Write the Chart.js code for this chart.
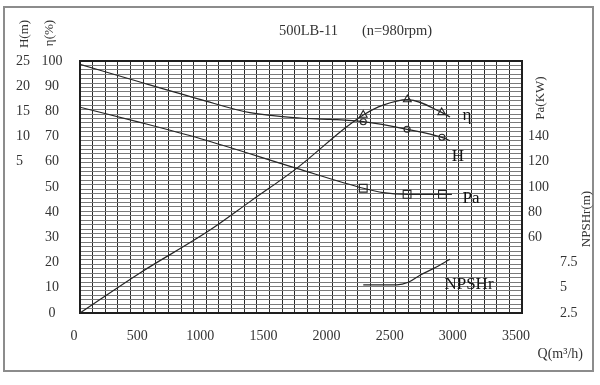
<!DOCTYPE html>
<html>
<head>
<meta charset="utf-8">
<script src="https://cdn.jsdelivr.net/npm/chart.js@4"></script>
<style>
html,body{margin:0;padding:0;background:#fff;}
canvas{display:block;background:#fff;}
</style>
</head>
<body>
<canvas id="c" width="600" height="385"></canvas>
<script>
// ---- data ----
const qTicks = [0, 500, 1000, 1500, 2000, 2500, 3000, 3500];
const hTicks = [5, 10, 15, 20, 25];
const etaTicks = [0, 10, 20, 30, 40, 50, 60, 70, 80, 90, 100];
const paTicks = [60, 80, 100, 120, 140];
const npTicks = [2.5, 5, 7.5];

const qEta = [0, 475, 1029, 1346, 1718, 2112, 2243, 2400, 2592, 2864, 2930];
const etaVals = [0, 15.9, 32.9, 44.2, 57.5, 73.9, 78.6, 82.5, 84.7, 79.6, 77.8];

const qH = [0, 475, 950, 1346, 1742, 1980, 2243, 2590, 2866, 2930];
const hVals = [24.35, 20.83, 17.4, 14.74, 13.69, 13.43, 12.96, 11.45, 9.86, 9.19];

const qPa = [0, 475, 950, 1716, 2243, 2400, 2590, 2870, 2945];
const paVals = [163.3, 151.3, 138.5, 114.8, 99, 95.5, 94.2, 94.2, 94.2];

const qNp = [2243, 2508, 2600, 2692, 2797, 2930];
const npVals = [5.3, 5.3, 5.55, 6.25, 6.9, 7.83];

const qEtaMark = [2243, 2592, 2864];
const etaMark = [78.6, 84.7, 79.6];
const qHMark = [2243, 2590, 2866];
const hMark = [12.96, 11.45, 9.86];
const qPaMark = [2243, 2590, 2870];
const paMark = [99, 94.2, 94.2];

const titleModel = "500LB-11";
const titleSpeed = "(n=980rpm)";
const curveNames = ["η", "H", "Pa", "NPSHr"];

// ---- helpers ----
const pts = (xs, ys) => xs.map((x, i) => ({x: x, y: ys[i]}));
const FONT = "'Liberation Serif', 'DejaVu Serif', serif";
const LINE = '#262626';
const near = (v, arr) => arr.some(t => Math.abs(t - v) < 1e-6);

function lineSet(data, axis) {
  return {type: 'line', data: data, yAxisID: axis, borderColor: LINE, borderWidth: 1.2,
    pointRadius: 0, fill: false, cubicInterpolationMode: 'monotone'};
}
function markSet(data, axis, style, r) {
  return {type: 'scatter', data: data, yAxisID: axis, showLine: false,
    pointStyle: style, pointRadius: r, pointBorderColor: LINE, pointBorderWidth: 1.1,
    pointBackgroundColor: 'rgba(0,0,0,0)'};
}

const deco = {
  id: 'deco',
  beforeDraw(chart) {
    const ctx = chart.ctx;
    ctx.save();
    ctx.fillStyle = '#fff';
    ctx.fillRect(0, 0, chart.width, chart.height);
    ctx.restore();
  },
  afterDraw(chart) {
    const ctx = chart.ctx, a = chart.chartArea;
    ctx.save();
    ctx.strokeStyle = '#1e1e1e';
    ctx.lineWidth = 2;
    ctx.strokeRect(a.left, a.top, a.right - a.left, a.bottom - a.top);
    ctx.strokeStyle = '#8c8c8c';
    ctx.lineWidth = 2;
    ctx.strokeRect(4, 7, 589, 364);

    ctx.fillStyle = '#333';
    ctx.textBaseline = 'middle';
    ctx.font = '14.5px ' + FONT;
    ctx.textAlign = 'left';
    ctx.fillText(titleModel, 279, 31);
    ctx.fillText(titleSpeed, 362, 31);

    const rot = (t, x, y, size) => {
      ctx.save();
      ctx.translate(x, y);
      ctx.rotate(-Math.PI / 2);
      ctx.font = size + 'px ' + FONT;
      ctx.textAlign = 'center';
      ctx.fillText(t, 0, 0);
      ctx.restore();
    };
    rot('H(m)', 24.5, 34, 13);
    rot('η(%)', 50, 33, 13);
    rot('Pa(KW)', 541, 98, 13);
    rot('NPSHr(m)', 587, 219, 13);

    ctx.font = '14px ' + FONT;
    ctx.textAlign = 'right';
    ctx.fillText('Q(m³/h)', 583, 354);

    ctx.fillStyle = '#111';
    ctx.font = '17px ' + FONT;
    ctx.textAlign = 'center';
    ctx.fillText(curveNames[0], 467, 116);
    ctx.fillText(curveNames[1], 458, 157);
    ctx.fillText(curveNames[2], 471, 199);
    ctx.fillText(curveNames[3], 469, 285);
    ctx.restore();
  }
};

const tickFont = {family: FONT, size: 14};
const tickColor = '#333';

new Chart(document.getElementById('c'), {
  data: {
    datasets: [
      lineSet(pts(qEta, etaVals), 'y'),
      lineSet(pts(qH, hVals), 'h'),
      lineSet(pts(qPa, paVals), 'pa'),
      lineSet(pts(qNp, npVals), 'np'),
      markSet(pts(qEtaMark, etaMark), 'y', 'triangle', 4.5),
      markSet(pts(qHMark, hMark), 'h', 'circle', 3),
      markSet(pts(qPaMark, paMark), 'pa', 'rect', 5.5)
    ]
  },
  options: {
    responsive: false,
    animation: false,
    events: [],
    layout: {padding: {left: 16, top: 61, right: 0, bottom: 0}},
    plugins: {legend: {display: false}, tooltip: {enabled: false}, title: {display: false}},
    scales: {
      x: {
        type: 'linear', position: 'bottom', min: 0, max: 3500,
        grid: {color: '#2a2a2a', lineWidth: 1, drawTicks: false},
        border: {display: false},
        ticks: {stepSize: 100, autoSkip: false, maxRotation: 0, padding: 15, labelOffset: -6,
          font: tickFont, color: tickColor,
          callback: v => near(v, qTicks) ? String(v) : ''},
        afterFit: s => { s.height = 72; }
      },
      g: {
        type: 'linear', position: 'left', weight: -1, min: 0, max: 57,
        grid: {color: '#7a7a7a', lineWidth: 1, drawTicks: false},
        border: {display: false},
        ticks: {display: false, stepSize: 1},
        afterFit: s => { s.width = 0; }
      },
      y: {
        type: 'linear', position: 'left', weight: 0, min: 0, max: 100,
        grid: {display: false, drawTicks: false},
        border: {display: false},
        ticks: {stepSize: 10, crossAlign: 'center', padding: 17.5, font: tickFont, color: tickColor,
          callback: v => near(v, etaTicks) ? String(v) : ''},
        afterFit: s => { s.width = 40; }
      },
      h: {
        type: 'linear', position: 'left', weight: 1, min: -25, max: 25,
        grid: {display: false, drawTicks: false},
        border: {display: false},
        ticks: {stepSize: 5, crossAlign: 'far', padding: 0, font: tickFont, color: tickColor,
          callback: v => near(v, hTicks) ? String(v) : ''},
        afterFit: s => { s.width = 24; }
      },
      pa: {
        type: 'linear', position: 'right', weight: 0, min: 0, max: 200,
        grid: {display: false, drawTicks: false},
        border: {display: false},
        ticks: {stepSize: 20, crossAlign: 'near', padding: 6, font: tickFont, color: tickColor,
          callback: v => near(v, paTicks) ? String(v) : ''},
        afterFit: s => { s.width = 38; }
      },
      np: {
        type: 'linear', position: 'right', weight: 1, min: 2.5, max: 27.5,
        grid: {display: false, drawTicks: false},
        border: {display: false},
        ticks: {stepSize: 2.5, crossAlign: 'near', padding: 0, font: tickFont, color: tickColor,
          callback: v => near(v, npTicks) ? String(v) : ''},
        afterFit: s => { s.width = 40; }
      }
    }
  },
  plugins: [deco]
});
</script>
</body>
</html>
